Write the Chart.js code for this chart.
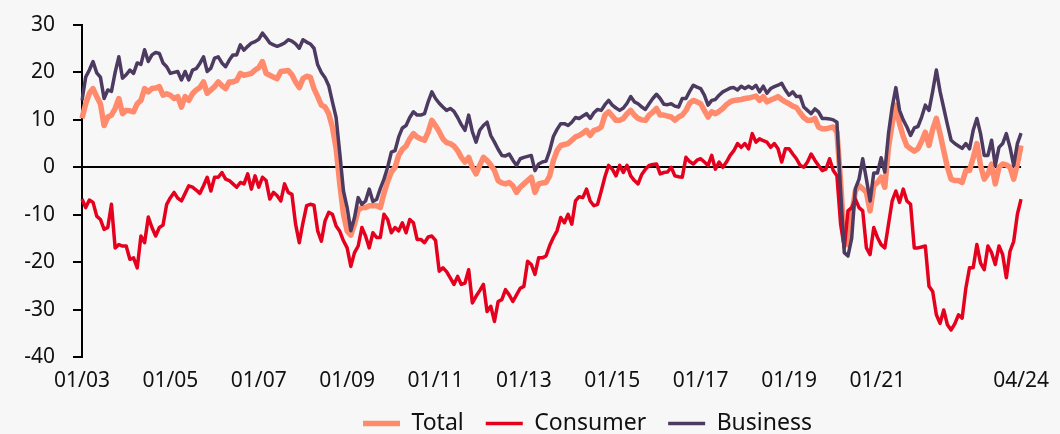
<!DOCTYPE html>
<html>
<head>
<meta charset="utf-8">
<title>Confidence</title>
<script src="https://cdn.jsdelivr.net/npm/chart.js@4/dist/chart.umd.min.js"></script>
<style>
  body { margin: 0; background: #f7f7f7; }
  canvas { display: block; }
</style>
</head>
<body>
<canvas id="myChart" width="1060" height="434"></canvas>
<script>
'use strict'

// Global variables:
const startYear = 2003;
const monthCount = 256; // 01/03 .. 04/24

// tick labels that show up under the x axis
const tickLabels = ['01/03', '01/05', '01/07', '01/09', '01/11', '01/13', '01/15', '01/17', '01/19', '01/21', '04/24'];
const yTicks = [-40, -30, -20, -10, 0, 10, 20, 30];

const total = [
  10.3, 13.4, 15.6, 16.6, 14.9, 13.4, 8.8, 10.6, 11, 12.4,
  14.5, 11.3, 12, 11.9, 11.7, 13.4, 14.1, 16.6, 15.9, 16.6,
  16.7, 17, 15.2, 15.5, 15.2, 14.5, 14.9, 12.7, 14.9, 14.1,
  15.5, 16.3, 16.8, 18, 15.6, 16.3, 17, 18, 17.2, 16.6,
  18, 18, 18.3, 19.8, 19.4, 19.6, 19.8, 20.5, 21, 22.3,
  19.8, 19.4, 19, 18.7, 20.2, 20.3, 20.4, 19.5, 18, 16.8,
  18.7, 19.2, 19, 16.6, 14.9, 13.1, 12.7, 11.3, 8.5, 4,
  -3.5, -9.9, -13.4, -14.3, -12, -9, -8.5, -8.5, -8.1, -8.1,
  -8.1, -8.5, -5.5, -3, -1, 0, 2.5, 3.8, 4.5, 6,
  7.1, 6.4, 6, 5.7, 7.4, 9.9, 8.8, 7.5, 6, 5.2,
  5, 4.5, 3.5, 2.1, 1.1, 2.1, 0, -1.4, 0.4, 2.1,
  1.4, 0.5, -0.7, -2.8, -3.3, -3.5, -3.2, -3.9, -5.3, -4.2,
  -3.5, -2.8, -2.1, -5.3, -3.5, -3.3, -3.2, -1.8, 1.4, 3.5,
  4.6, 4.8, 5, 5.7, 6.4, 6.7, 7.2, 7.8, 6.7, 7.8,
  8, 8.5, 11, 11.7, 10.8, 9.9, 9.9, 10.3, 11.3, 12,
  11, 10.3, 10, 9.9, 11, 11.6, 12.4, 11, 11, 10.8,
  10.6, 9.9, 10.6, 11, 12, 13.5, 14.1, 13.8, 13.4, 12,
  10.6, 11.7, 11.3, 11.8, 12.4, 13.2, 13.8, 14.1, 14.2, 14.3,
  14.5, 14.6, 14.8, 15, 14.1, 14.9, 13.8, 14.2, 14.5, 14.9,
  14.3, 13.8, 13.4, 12.9, 12.6, 11.5, 10.5, 9.9, 9.9, 10.3,
  8.5, 8.1, 8.1, 8.3, 8.5, 7.4, -3, -15.6, -16.3, -10,
  -5, -3.9, -4.5, -5.3, -9.2, -3.9, -3.2, -2.1, -4.2, 4.2,
  9.2, 13.1, 9.2, 6.5, 4.5, 3.9, 3.4, 3.9, 5.5, 7.4,
  4.6, 8, 10.3, 7.1, 3.5, 0, -2.5, -2.8, -2.8, -3.2,
  -0.7, -0.7, 2, 5, 0.4, -2.5, -1.4, 0.7, -3.5, 0,
  0.7, 0.5, 0, -2.5, 0.7, 4.6
];

const consumer = [
  -6.7, -8.5, -6.9, -7.4, -10.3, -11, -13.1, -12.7, -7.8, -17,
  -16.3, -16.6, -16.6, -19.4, -19.1, -21.2, -14.5, -15.9, -10.5, -12.7,
  -14.5, -12.7, -12.2, -7.8, -6.4, -5.3, -6.5, -7.1, -5.5, -3.9,
  -4.2, -4.8, -5.5, -3.9, -2.1, -5, -2.1, -2.1, -1.1, -2.5,
  -2.8, -3.5, -4.2, -3.2, -3.5, -1.4, -4.6, -1.8, -4.2, -2.1,
  -2.8, -6.7, -5.3, -6, -7.1, -3.5, -5.3, -5.7, -12, -15.9,
  -11.7, -8.1, -7.8, -8, -13.4, -15.6, -11.3, -9.5, -9.9, -12.4,
  -13.5, -15.5, -17, -20.9, -18, -16.6, -12.7, -14.5, -17, -13.8,
  -14.8, -14.8, -9.9, -11, -13.8, -12.7, -13.4, -11.7, -13.8, -11,
  -11.7, -15.2, -15.2, -15.9, -14.7, -14.5, -15.4, -21.9, -21.2, -22,
  -23.3, -24.7, -23, -24.7, -24.4, -21.6, -28.6, -27.2, -26, -24.7,
  -30.4, -29.3, -32.5, -28.3, -27.9, -25.8, -26.9, -28.3, -26.9, -25.5,
  -25.1, -19.8, -20.5, -22.6, -19.1, -19.1, -18.7, -16.5, -14.8, -13.4,
  -10.6, -11.7, -9.9, -12, -7.1, -6.2, -6.4, -4.6, -7.1, -8.1,
  -7.8, -5, -2, 0.4, -0.4, -1.8, 0.4, -1.1, 0.4, -1.8,
  -2.8, -3.5, -1.5, -0.4, 0.4, 0.6, 0.7, -1.4, -1.1, -1,
  0, -1.8, -2, -2.1, 2.1, 1.2, 0.7, 1.5, 1.8, 1.1,
  0.4, 2.5, -0.4, 1.1, 0, 1.1, 2.5, 3.5, 5, 4.2,
  5, 3.9, 7.1, 5.3, 6, 5.6, 5.3, 4.2, 5, 3.9,
  1.1, 3.9, 3.9, 2.8, 1.8, 0.4, 0, 1.1, 2.8, 1.5,
  0.4, -0.7, -0.4, 1.8, -0.7, -1.8, -12, -17, -9.2, -8.5,
  -6.7, -8.5, -9.2, -17, -18.4, -12.7, -14.8, -16.3, -17, -12,
  -7.1, -5, -7.4, -4.6, -7.1, -7.8, -17, -17, -16.8, -16.6,
  -25.1, -26.2, -31.1, -32.9, -30.1, -33.2, -34.3, -33, -31.1, -31.8,
  -25.5, -21.2, -21.2, -16.3, -20.2, -21.6, -16.6, -18, -20.5, -16.6,
  -18.4, -23.3, -17.7, -15.6, -9.9, -6.7
];

const business = [
  14.1, 19, 20.5, 22.3, 19.9, 19, 14.5, 16.3, 16, 20,
  23.3, 18.8, 19.5, 20.5, 19.8, 22, 21.7, 24.8, 22.3, 23.7,
  24.2, 24, 22, 21.2, 19.8, 20, 20.2, 18.4, 20.2, 18.4,
  20.5, 20.8, 21.9, 23.3, 20.2, 20.9, 23, 23.3, 22, 21.2,
  22.6, 23.7, 23.7, 25.8, 24.7, 25.5, 26.2, 26.5, 27, 28.3,
  27.3, 26.2, 25.8, 25.5, 25.8, 26.2, 26.9, 26.6, 26, 25.1,
  26.9, 26.4, 26, 25.1, 21.6, 20, 18.9, 17.2, 13.8, 10.5,
  3, -5, -8.5, -13.4, -10.6, -6.4, -7.8, -7.1, -4.6, -7.2,
  -6.8, -4.5, -2.5, 0, 3.2, 3.5, 6.4, 8.3, 8.8, 10.5,
  11.7, 11, 11, 11.3, 13.8, 15.9, 14.5, 13.5, 12.7, 12,
  12.4, 11.8, 10.5, 9, 7.8, 11, 7.5, 5.3, 7.8, 8.8,
  9.5, 6.7, 5.3, 3.8, 2.5, 2.4, 2.8, 1.5, 0.4, 1.8,
  2.1, 2.3, 2.5, -0.7, 0.7, 1.1, 1.3, 3.5, 6.5, 8,
  9.2, 9.2, 8.8, 9.5, 10.5, 10.3, 10.8, 11.3, 10.3, 11.5,
  12.2, 12, 13.2, 14.1, 13.1, 12.5, 12, 12.5, 13.5, 14.9,
  13.8, 13.4, 12.7, 12.2, 13.4, 14.5, 15.4, 14.5, 13.3, 13.2,
  13.4, 12.9, 12.7, 14.5, 14.5, 16, 17.3, 16.9, 16.6, 15.2,
  13.1, 14.1, 14.3, 15.2, 15.9, 16.3, 16.7, 16.8, 16.3, 17.1,
  16.6, 17.1, 16.6, 17.3, 15.9, 17.1, 15.6, 16.6, 17, 17.3,
  17.7, 16.3, 15.2, 15.9, 14.9, 15, 12.7, 12, 11.3, 12.3,
  11.7, 10.3, 10.3, 10.2, 10, 9.5, -5, -18, -18.7, -15,
  -4.5, -2.5, 1.8, -2.5, -7.1, -1.2, -1.2, 2, -1, 7.1,
  12.7, 16.8, 12, 10, 8.5, 6.7, 8.3, 8.6, 10.6, 13.1,
  12, 16, 20.5, 16, 12.5, 9, 5.7, 5, 4.5, 4,
  5, 3.9, 7.8, 10.3, 7.1, 2.5, 2.5, 5.7, 0.4, 4.2,
  5, 7.1, 4.2, 0.4, 5, 7.2
];

// month labels mm/yy
let months = [];
for (let i = 0; i < monthCount; i++) {
  let mm = String(i % 12 + 1).padStart(2, '0');
  let yy = String((startYear + Math.floor(i / 12)) % 100).padStart(2, '0');
  months.push(`${mm}/${yy}`);
}

const fontFamily = '"Noto Sans", "Open Sans", sans-serif';

// nudge the legend to the right like in the original
const legendShift = {
  id: 'legendShift',
  afterLayout(chart) {
    chart.legend.left += 75;
    chart.legend.right += 75;
  }
};

function renderChart() {
  const data = {
    labels: months,
    datasets: [{
      label: 'Total',
      data: total,
      borderColor: '#ff8a6c',
      backgroundColor: '#ff8a6c',
      borderWidth: 5.5,
      order: 3
    },
    {
      label: 'Consumer',
      data: consumer,
      borderColor: '#e5001e',
      backgroundColor: '#e5001e',
      borderWidth: 3.5,
      order: 2
    },
    {
      label: 'Business',
      data: business,
      borderColor: '#4d3a60',
      backgroundColor: '#4d3a60',
      borderWidth: 3.5,
      order: 1
    }]
  };

  const config = {
    type: 'line',
    data: data,
    options: {
      responsive: false,
      animation: false,
      layout: {
        padding: { top: 25, right: 35, bottom: -11, left: 0 }
      },
      elements: {
        point: { radius: 0 },
        line: { tension: 0, borderJoinStyle: 'round' }
      },
      scales: {
        x: {
          grid: { display: false, drawTicks: false },
          border: { display: false },
          ticks: {
            autoSkip: false,
            maxRotation: 0,
            padding: 11,
            color: '#111',
            font: { family: fontFamily, size: 21 },
            callback: function (value) {
              let lab = this.getLabelForValue(value);
              return tickLabels.includes(lab) ? lab : '';
            }
          },
          afterFit: function (scale) {
            scale.height = 33;
          }
        },
        y: {
          min: yTicks[0],
          max: yTicks[yTicks.length - 1],
          border: { display: true, color: '#000', width: 2 },
          grid: {
            drawOnChartArea: true,
            color: (ctx) => (ctx.tick && ctx.tick.value === 0 ? '#000' : 'rgba(0,0,0,0)'),
            tickColor: '#000',
            tickLength: 9,
            lineWidth: 2
          },
          ticks: {
            stepSize: 10,
            padding: 18,
            color: '#111',
            font: { family: fontFamily, size: 21 }
          },
          afterFit: function (scale) {
            scale.width = 82;
            // the tick padding should not push the plot down
            scale.paddingTop = 12;
            scale.paddingBottom = 12;
          }
        }
      },
      plugins: {
        tooltip: { enabled: false },
        legend: {
          position: 'bottom',
          labels: {
            usePointStyle: true,
            pointStyle: 'line',
            pointStyleWidth: 37,
            padding: 22,
            color: '#111',
            font: { family: fontFamily, size: 23 },
            sort: (a, b) => a.datasetIndex - b.datasetIndex
          }
        }
      }
    },
    plugins: [legendShift]
  };
  let canvasChart = document.getElementById('myChart');
  const myChart = new Chart(canvasChart, config);
}

renderChart();
</script>
</body>
</html>
